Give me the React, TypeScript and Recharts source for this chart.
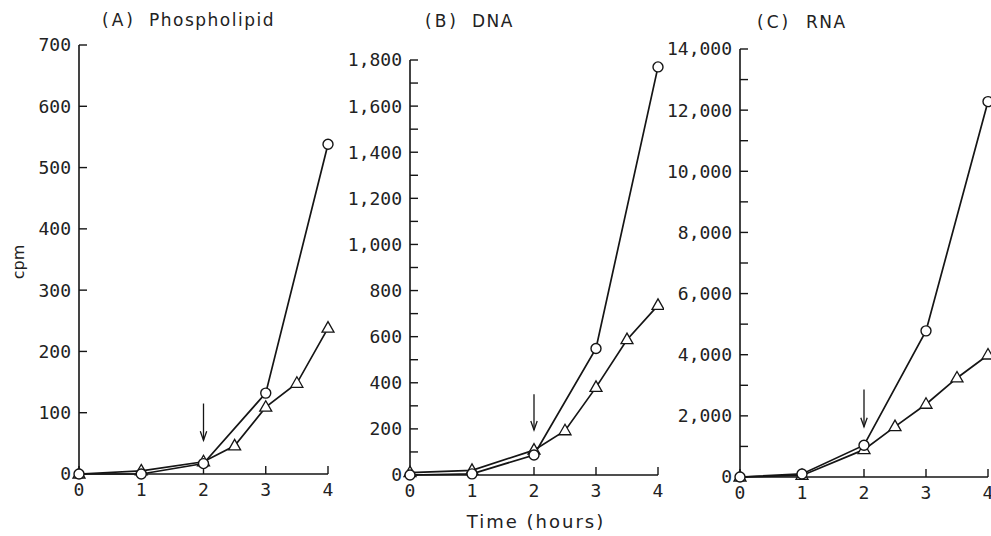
import React from 'react';
import { LineChart, Line, XAxis, YAxis, ReferenceLine } from 'recharts';

// Time points (hours)
const circleHours = [0, 1, 2, 3, 4];
const triangleHours = [0, 1, 2, 2.5, 3, 3.5, 4];
const timeTicks = [0, 1, 2, 3, 4];

// (A) Phospholipid
const phosphoCircle = [0, 0, 17, 132, 538];
const phosphoTriangle = [0, 5, 20, 46, 109, 148, 238];
const phosphoTicks = [0, 100, 200, 300, 400, 500, 600, 700];
const phosphoArrow = [115, 55];

// (B) DNA
const dnaCircle = [0, 5, 87, 549, 1770];
const dnaTriangle = [10, 20, 108, 192, 380, 587, 736];
const dnaTicks = [0, 100, 200, 300, 400, 500, 600, 700, 800, 900, 1000, 1100, 1200, 1300, 1400, 1500, 1600, 1700, 1800];
const dnaArrow = [350, 195];

// (C) RNA
const rnaCircle = [0, 100, 1040, 4780, 12280];
const rnaTriangle = [0, 50, 895, 1650, 2380, 3240, 3990];
const rnaTicks = [0, 1000, 2000, 3000, 4000, 5000, 6000, 7000, 8000, 9000, 10000, 11000, 12000, 13000, 14000];
const rnaArrow = [2860, 1645];

const arrowHour = 2;

const INK = '#151515';
const TICK_FONT = { fill: '#222', fontSize: 18, fontFamily: 'DejaVu Sans Mono' };

const toRows = (xs: number[], ys: number[]) => xs.map((t, i) => ({ t, v: ys[i] }));

const CircleDot = (props: any) => {
  const { cx, cy, key } = props;
  if (cx == null || cy == null) return null;
  return <circle key={key} cx={cx} cy={cy} r={5} fill="#fff" stroke={INK} strokeWidth={1.4} />;
};

const TriangleDot = (props: any) => {
  const { cx, cy, key } = props;
  if (cx == null || cy == null) return null;
  return (
    <path
      key={key}
      d={`M${cx},${cy - 6.5} L${cx + 6},${cy + 4} L${cx - 6},${cy + 4} Z`}
      fill="#fff"
      stroke={INK}
      strokeWidth={1.3}
    />
  );
};

const arrowShape = (props: any) => {
  const { x1, y1, x2, y2 } = props;
  return (
    <g>
      <line x1={x1} y1={y1} x2={x2} y2={y2} stroke={INK} strokeWidth={1.3} />
      <path d={`M${x2 - 3.2},${y2 - 9} L${x2},${y2} L${x2 + 3.2},${y2 - 9}`} fill="none" stroke={INK} strokeWidth={1.3} />
    </g>
  );
};

type PanelProps = {
  left: number;
  width: number;
  margin: { top: number; right: number; bottom: number; left: number };
  circle: number[];
  triangle: number[];
  yTicks: number[];
  major: number;
  arrow: number[];
};

const Panel = ({ left, width, margin, circle, triangle, yTicks, major, arrow }: PanelProps) => {
  const yMax = yTicks[yTicks.length - 1];
  return (
    <div style={{ position: 'absolute', left, top: 0 }}>
      <LineChart width={width} height={536} margin={margin}>
        <XAxis
          dataKey="t"
          type="number"
          domain={[0, 4]}
          ticks={timeTicks}
          interval={0}
          height={40}
          tickSize={-8}
          tickMargin={17}
          axisLine={{ stroke: INK, strokeWidth: 1.6 }}
          tickLine={{ stroke: INK, strokeWidth: 1.4 }}
          tick={TICK_FONT}
        />
        <YAxis
          type="number"
          domain={[0, yMax]}
          ticks={yTicks}
          interval={0}
          width={60}
          tickSize={-8}
          tickMargin={16}
          axisLine={{ stroke: INK, strokeWidth: 1.6 }}
          tickLine={{ stroke: INK, strokeWidth: 1.4 }}
          tick={TICK_FONT}
          tickFormatter={(v: number) => (v % major === 0 ? v.toLocaleString('en-US') : '')}
        />
        <ReferenceLine
          segment={[
            { x: arrowHour, y: arrow[0] },
            { x: arrowHour, y: arrow[1] },
          ]}
          shape={arrowShape}
        />
        <Line
          data={toRows(triangleHours, triangle)}
          dataKey="v"
          stroke={INK}
          strokeWidth={1.7}
          dot={TriangleDot}
          activeDot={false}
          isAnimationActive={false}
        />
        <Line
          data={toRows(circleHours, circle)}
          dataKey="v"
          stroke={INK}
          strokeWidth={1.7}
          dot={CircleDot}
          activeDot={false}
          isAnimationActive={false}
        />
      </LineChart>
    </div>
  );
};

export default function App() {
  const titleStyle = { fill: '#222', fontSize: 17, fontFamily: 'DejaVu Sans', letterSpacing: 1.5 };
  return (
    <div style={{ position: 'absolute', left: 0, top: 0, width: 991, height: 536, overflow: 'hidden', background: '#fff' }}>
      <Panel
        left={0}
        width={340}
        margin={{ top: 45, right: 12, bottom: 22, left: 19 }}
        circle={phosphoCircle}
        triangle={phosphoTriangle}
        yTicks={phosphoTicks}
        major={100}
        arrow={phosphoArrow}
      />
      <Panel
        left={340}
        width={324}
        margin={{ top: 60, right: 6, bottom: 21, left: 10 }}
        circle={dnaCircle}
        triangle={dnaTriangle}
        yTicks={dnaTicks}
        major={200}
        arrow={dnaArrow}
      />
      <Panel
        left={664}
        width={336}
        margin={{ top: 49, right: 12, bottom: 19, left: 16 }}
        circle={rnaCircle}
        triangle={rnaTriangle}
        yTicks={rnaTicks}
        major={2000}
        arrow={rnaArrow}
      />
      <svg width={991} height={536} style={{ position: 'absolute', left: 0, top: 0, pointerEvents: 'none' }}>
        <text x={102} y={26} {...titleStyle} letterSpacing={3}>(A)</text>
        <text x={149} y={26} {...titleStyle}>Phospholipid</text>
        <text x={425} y={27} {...titleStyle} letterSpacing={3}>(B)</text>
        <text x={472} y={27} {...titleStyle}>DNA</text>
        <text x={757} y={28} {...titleStyle} letterSpacing={3}>(C)</text>
        <text x={806} y={28} {...titleStyle}>RNA</text>
        <text
          x={24}
          y={262}
          transform="rotate(-90 24 262)"
          textAnchor="middle"
          fill="#222"
          fontSize={16}
          fontFamily="DejaVu Sans"
        >
          cpm
        </text>
        <text x={536} y={528} textAnchor="middle" fill="#222" fontSize={18} fontFamily="DejaVu Sans" letterSpacing={2}>
          Time (hours)
        </text>
      </svg>
    </div>
  );
}
